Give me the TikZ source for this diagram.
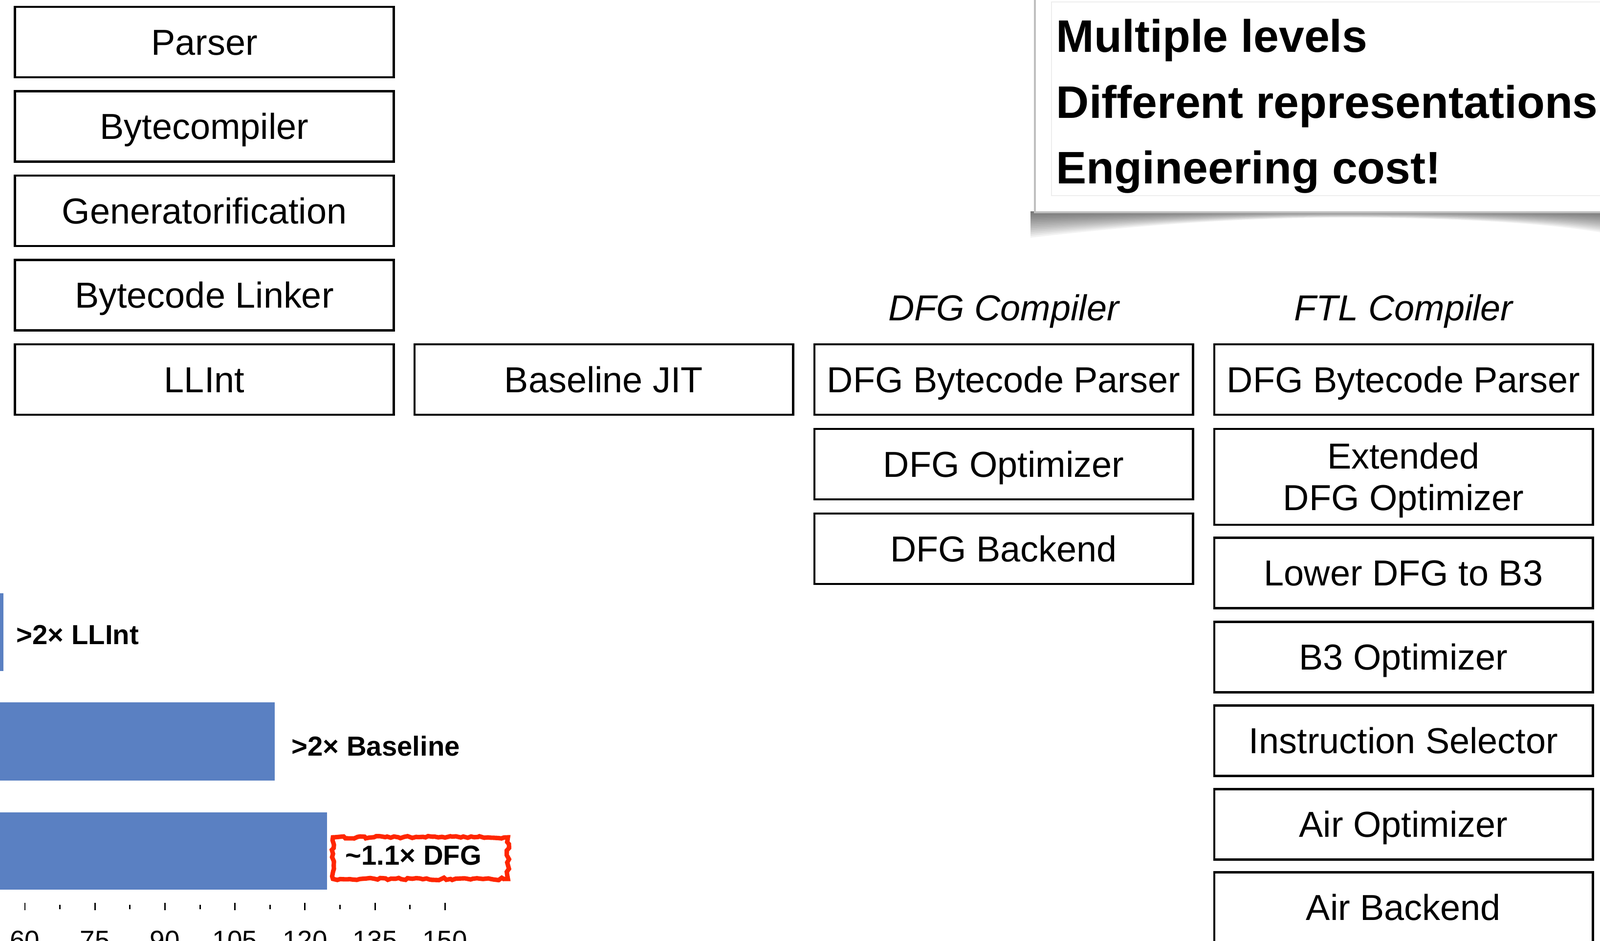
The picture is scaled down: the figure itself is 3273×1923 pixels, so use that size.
\documentclass[tikz,border=0pt]{standalone}
\usepackage{fontspec}
\setmainfont{Liberation Sans}
\usetikzlibrary{decorations.pathmorphing}
\definecolor{barblue}{RGB}{90,128,194}
\definecolor{markred}{RGB}{255,38,0}

\begin{document}
\begin{tikzpicture}[x=0.01cm, y=-0.01cm,
  pass/.style={draw=black, line width=1.3pt, minimum width=7.74cm, minimum height=1.44cm,
    inner sep=0pt, font=\fontsize{21}{25}\selectfont, text height=0.52cm, text depth=0pt},
  compname/.style={anchor=base, font=\fontsize{21}{25}\selectfont\itshape},
  barlabel/.style={anchor=base west, inner sep=0pt, font=\fontsize{16}{19}\selectfont\bfseries},
  ticklabel/.style={anchor=base, inner sep=0pt, font=\fontsize{15.6}{18}\selectfont},
  tickline/.style={line width=0.85pt},
  punchline/.style={anchor=base west, inner sep=0pt, font=\fontsize{26.5}{32}\selectfont\bfseries}]

  \useasboundingbox (0,0) rectangle (3273,1923);
  \clip (0,0) rectangle (3273,1923);

  % LLInt column
  \node[pass] (parser)  at (418, 86)    {Parser};
  \node[pass] (bcomp)   at (418, 258.5) {Bytecompiler};
  \node[pass] (genify)  at (418, 431)   {Generatorification};
  \node[pass] (linker)  at (418, 603.5) {Bytecode Linker};
  \node[pass] (llint)   at (418, 776)   {LLInt};

  % Baseline column
  \node[pass] (bjit)    at (1235, 776)  {Baseline JIT};

  % DFG column
  \node[compname] (dfgname) at (2053, 655) {DFG Compiler};
  \node[pass] (dfgparse) at (2053, 776) {DFG Bytecode Parser};
  \node[pass] (dfgopt)   at (2053, 949) {DFG Optimizer};
  \node[pass] (dfgback)  at (2053, 1122) {DFG Backend};

  % FTL column
  \node[compname] (ftlname) at (2871, 655) {FTL Compiler};
  \node[pass] (ftlparse) at (2871, 776) {DFG Bytecode Parser};
  \node[pass, minimum height=1.96cm, align=center, text height=1.37cm, text depth=0pt,
        font=\fontsize{21}{24.2}\selectfont] (extopt) at (2871, 975) {Extended\\DFG Optimizer};
  \node[pass] (lowerb3)  at (2871, 1171.5) {Lower DFG to B3};
  \node[pass] (bthree)   at (2871, 1343.5) {B3 Optimizer};
  \node[pass] (isel)     at (2871, 1514.5) {Instruction Selector};
  \node[pass] (airopt)   at (2871, 1685.5) {Air Optimizer};
  \node[pass] (airback)  at (2871, 1855.5) {Air Backend};

  % speedup bars
  \fill[barblue] (0,1213) rectangle (7,1372);
  \fill[barblue] (0,1436) rectangle (562,1596);
  \fill[barblue] (0,1661) rectangle (669,1819);
  \node[barlabel] (gainllint) at (33, 1317)  {>2× LLInt};
  \node[barlabel] (gainbase)  at (596, 1545) {>2× Baseline};
  \node[barlabel] (gaindfg)   at (706, 1768) {\char"007E 1.1× DFG};
  \draw[markred, line width=2.6pt, decorate,
        decoration={random steps, segment length=2pt, amplitude=0.7pt}]
    (681,1712) rectangle (1039,1797);

  % axis
  \foreach \i in {0,...,6}
    \draw[tickline] ({51+143.2*\i},1846) -- ++(0,15);
  \foreach \i in {0,...,5}
    \draw[tickline] ({122.6+143.2*\i},1850) -- ++(0,9);
  \foreach \v [count=\i from 0] in {60,75,...,150}
    \node[ticklabel] (tick\v) at ({51+143.2*\i},1941) {\v};

  % curled shadow under the note
  \foreach \f in {1,...,14}
    \fill[black, opacity=0.05] (2108,432) -- (2108,{432+54*\f/14})
      .. controls (2400,{432+20*\f/14}) and (2600,{432+13*\f/14}) .. (2750,{432+13*\f/14})
      .. controls (2950,{432+13*\f/14}) and (3150,{432+22*\f/14}) .. (3280,{432+44*\f/14})
      -- (3280,432) -- cycle;
  \filldraw[fill=white, draw=gray!50, line width=1pt] (2117,-20) rectangle (3300,434);
  \draw[black!7, line width=0.8pt] (3300,4) -- (2151,4) -- (2151,400) -- (3300,400);
  \node[punchline] (lvl)  at (2160, 106) {Multiple levels};
  \node[punchline] (repr) at (2160, 241) {Different representations};
  \node[punchline] (cost) at (2160, 375) {Engineering cost!};
\end{tikzpicture}
\end{document}
